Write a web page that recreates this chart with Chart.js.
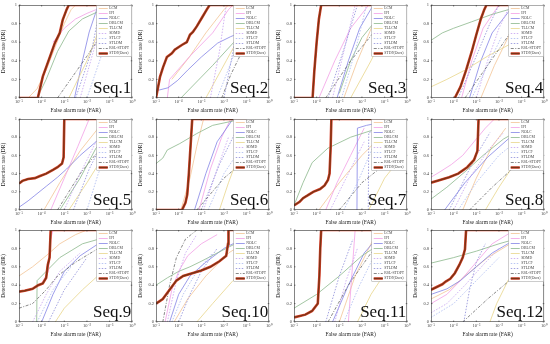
<!DOCTYPE html>
<html><head><meta charset="utf-8">
<script src="https://cdn.jsdelivr.net/npm/chart.js@4.4.1/dist/chart.umd.min.js"></script>
<style>
html,body{margin:0;padding:0;background:#fff;width:550px;height:344px;overflow:hidden}
canvas{position:absolute}
</style></head><body>
<script>
// ---- data ----
const methods = ["LCM","IPI","NOLC","DBLCM","TLLCM","SDMD","STLCF","STLDM","RSL-STDPT","STDF(Ours)"];
const xTicks = [-5,-4,-3,-2,-1,0];            // log10(FAR)
const yTicks = [0,0.2,0.4,0.6,0.8,1];
const seqNames = ["Seq.1","Seq.2","Seq.3","Seq.4","Seq.5","Seq.6","Seq.7","Seq.8","Seq.9","Seq.10","Seq.11","Seq.12"];
// each curve: [log10(FAR), DR]; order = methods
const seq1 = [
 [[-4.6,0],[-4.2,0.1],[-3.8,0.3],[-3.4,0.55],[-3.0,0.8],[-2.7,0.95],[-2.5,1]],
 [[-3.5,0.6],[-3.0,0.75],[-2.5,0.85],[-2.0,0.91],[-1.5,0.96],[-1.0,1]],
 [[-2.55,0],[-2.2,0.4],[-1.9,0.71],[-1.5,1]],
 [[-4.2,0],[-3.8,0.2],[-3.3,0.5],[-2.8,0.72],[-2.2,0.85],[-1.5,0.93],[-1.0,0.97]],
 [[-2.8,0],[-2.0,0.4],[-1.2,0.9],[-1.0,1]],
 [[-2.3,0],[-1.6,0.6],[-1.2,1]],
 [[-2.0,0],[-1.3,0.5],[-0.8,1]],
 [[-2.5,0],[-1.8,0.5],[-1.4,1]],
 [[-3.3,0],[-2.0,0.45],[-1.3,0.7],[-0.6,0.95]],
 [[-5,0],[-4.17,0],[-3.95,0.23],[-3.64,0.44],[-3.42,0.59],[-3.2,0.7],[-3.07,0.84],[-2.9,0.95],[-2.8,1],[-1,1]]
];
const seq2 = [
 [[-4.3,0.2],[-3.5,0.45],[-2.8,0.7],[-2.0,0.95],[-1.8,1]],
 [[-4.5,0],[-4.4,0.2],[-3.5,0.45],[-2.5,0.7],[-1.8,0.95],[-1.6,1]],
 [[-4.95,0.08],[-4.47,0.11],[-4.04,0.19],[-3.6,0.3],[-3.0,0.44],[-2.28,0.59],[-1.7,0.66],[-0.9,0.74],[-0.1,0.8]],
 [[-3.9,0],[-2.5,0.35],[-1.0,0.75],[-0.2,0.95]],
 [[-2.8,0],[-1.9,0.4],[-1.0,0.8]],
 [[-2.6,0],[-2.2,0.5],[-1.9,1]],
 [[-2.3,0],[-1.5,0.5],[-0.8,1]],
 [[-2.0,0],[-1.6,0.5],[-1.3,1]],
 [[-2.1,0],[-1.7,0.25],[-0.6,0.8]],
 [[-5,0],[-4.82,0.23],[-4.69,0.33],[-4.52,0.44],[-4.3,0.48],[-4.17,0.52],[-3.86,0.57],[-3.64,0.6],[-3.5,0.68],[-3.37,0.71],[-3.2,0.77],[-2.98,0.86],[-2.76,0.95],[-2.63,1],[-1,1]]
];
const seq3 = [
 [[-2.8,0],[-2.2,0.4],[-1.5,0.8],[-1.0,1]],
 [[-3.9,0],[-3.2,0.4],[-2.5,0.75],[-1.7,1]],
 [[-3.1,0],[-2.6,0.4],[-2.1,0.75],[-1.5,1]],
 [[-3.0,0.05],[-2.5,0.4],[-2.0,0.65],[-1.0,0.95]],
 [[-2.5,0],[-1.6,0.4],[-0.6,0.9]],
 [[-3.3,0],[-2.8,0.5],[-2.3,1]],
 [[-2.9,0],[-2.3,0.5],[-1.8,1]],
 [[-3.5,0],[-2.7,0.6],[-2.2,1]],
 [[-3.6,0],[-2.5,0.4],[-1.0,0.85]],
 [[-5,0],[-4.18,0],[-4.1,0.3],[-4.0,0.6],[-3.9,0.85],[-3.8,1],[-1,1]]
];
const seq4 = [
 [[-2.8,0],[-2.2,0.35],[-1.5,0.7],[-0.8,0.9]],
 [[-3.65,0],[-3.2,0.4],[-2.7,0.75],[-2.0,1]],
 [[-3.3,0],[-2.8,0.4],[-2.3,0.7],[-1.5,0.95]],
 [[-5,0.62],[-4.5,0.7],[-4,0.75],[-3.2,0.82],[-2.3,0.9],[-1.3,0.97],[-0.8,1]],
 [[-5,0.12],[-4.3,0.2],[-3.5,0.3],[-2.5,0.45],[-1.5,0.58],[-0.3,0.68]],
 [[-3.0,0],[-2.5,0.4],[-2.0,0.75],[-1.6,0.95]],
 [[-3.2,0],[-2.6,0.3],[-1.9,0.65]],
 [[-3.8,0],[-3.0,0.45],[-2.4,0.8],[-2.0,1]],
 [[-3.5,0],[-2.5,0.35],[-1.5,0.7],[-0.5,0.95]],
 [[-3.95,0],[-3.7,0.12],[-3.45,0.3],[-3.2,0.5],[-3.0,0.68],[-2.8,0.85],[-2.65,0.95],[-2.55,1],[-1,1]]
];
const seq5 = [
 [[-3.9,0],[-3.2,0.3],[-2.3,0.65],[-1.5,0.9]],
 [[-3.6,0],[-3.0,0.35],[-2.4,0.7],[-1.9,1]],
 [[-5,0.03],[-4.6,0.1],[-4.3,0.16],[-3.8,0.26],[-3.3,0.36],[-2.9,0.45],[-2.3,0.6],[-1.6,0.75],[-0.5,0.9]],
 [[-3.2,0],[-2.3,0.35],[-1.6,0.68],[-0.8,0.9]],
 [[-2.8,0],[-2.0,0.3],[-1.0,0.7]],
 [[-3.0,0],[-2.3,0.4],[-1.5,0.8]],
 [[-2.0,0],[-1.5,0.4],[-0.8,0.8]],
 [[-2.6,0],[-1.9,0.45],[-1.2,0.8]],
 [[-3.3,0],[-2.3,0.4],[-1.0,0.8]],
 [[-5,0.29],[-4.85,0.32],[-4.6,0.34],[-4.3,0.35],[-4.1,0.37],[-3.8,0.4],[-3.5,0.44],[-3.3,0.47],[-3.1,0.51],[-3.03,0.58],[-3.0,1],[-1,1]]
];
const seq6 = [
 [[-3.9,0],[-3.5,0.35],[-3.2,0.7],[-2.9,1]],
 [[-3.1,0],[-2.6,0.45],[-2.1,0.8],[-1.7,1]],
 [[-3.3,0],[-2.8,0.4],[-2.3,0.75],[-1.6,1]],
 [[-5,0.51],[-4.7,0.57],[-4.5,0.66],[-3.95,0.73],[-3.2,0.84],[-2.5,0.93],[-1.75,0.97],[-1.2,1]],
 [[-2.2,0],[-1.8,0.3],[-1.2,0.7],[-0.6,1]],
 [[-2.9,0],[-2.3,0.45],[-1.8,0.8]],
 [[-2.7,0],[-2.0,0.4],[-1.2,0.7]],
 [[-3.0,0],[-2.2,0.5],[-1.5,0.85]],
 [[-3.2,0],[-2.0,0.35],[-0.8,0.6]],
 [[-5,0],[-3.85,0],[-3.7,0.08],[-3.62,0.17],[-3.55,0.4],[-3.45,0.8],[-3.4,1],[-1,1]]
];
const seq7 = [
 [[-3.9,0],[-3.0,0.3],[-2.0,0.6],[-1.2,0.8]],
 [[-3.6,0],[-3.1,0.3],[-2.5,0.6],[-1.9,0.9]],
 [[-2.22,0],[-2.2,0.9],[-1.8,0.93],[-0.8,0.98]],
 [[-5,0.05],[-4.6,0.3],[-4.2,0.52],[-3.5,0.68],[-2.5,0.8],[-1.5,0.88],[-0.3,0.95]],
 [[-1.7,0],[-1.0,0.35],[-0.2,0.6]],
 [[-3.4,0],[-2.6,0.4],[-1.9,0.75]],
 [[-2.8,0],[-2.2,0.3],[-1.5,0.7]],
 [[-1.72,0],[-1.7,0.85],[-1.2,0.9]],
 [[-3.0,0],[-2.0,0.3],[-0.5,0.6]],
 [[-5,0.05],[-4.75,0.09],[-4.6,0.13],[-4.4,0.16],[-4.15,0.2],[-3.85,0.23],[-3.65,0.27],[-3.5,0.33],[-3.43,0.4],[-3.38,0.7],[-3.35,1],[-1,1]]
];
const seq8 = [
 [[-3.6,0],[-3,0.35],[-2.3,0.7],[-1.7,0.9]],
 [[-5,0.36],[-4.6,0.42],[-4.1,0.5],[-3.6,0.6],[-3.1,0.75],[-2.6,0.9],[-2.2,1]],
 [[-4.4,0],[-3.5,0.3],[-2.5,0.58],[-1.5,0.8],[-0.2,0.95]],
 [[-5,0.12],[-4.3,0.25],[-3.5,0.42],[-2.7,0.6],[-1.8,0.78],[-0.8,0.92]],
 [[-2.6,0],[-2,0.25],[-1.2,0.55],[-0.3,0.75]],
 [[-4.0,0],[-3.3,0.35],[-2.5,0.65],[-1.8,0.85]],
 [[-3.8,0],[-3.0,0.3],[-2.0,0.6],[-1.0,0.8]],
 [[-4.2,0],[-3.6,0.3],[-3.0,0.6],[-2.4,0.85]],
 [[-3.3,0],[-2.3,0.25],[-1.2,0.5],[-0.2,0.7]],
 [[-5,0.3],[-4.6,0.33],[-4.2,0.36],[-3.8,0.4],[-3.4,0.47],[-3.1,0.55],[-2.95,0.65],[-2.9,1],[-1,1]]
];
const seq9 = [
 [[-5,0.5],[-4.4,0.6],[-3.8,0.72],[-3.2,0.85],[-2.5,0.95],[-2.0,1]],
 [[-4.5,0.35],[-4.0,0.42],[-3.7,0.55],[-3.6,0.9],[-3.5,1]],
 [[-4.0,0],[-3.5,0.3],[-3.0,0.55],[-2.3,0.72],[-1.5,0.85],[-0.8,0.95]],
 [[-4.22,0],[-4.2,0.45],[-3.8,0.55],[-3.2,0.7],[-2.2,0.85],[-1.2,0.92]],
 [[-3.4,0],[-3.0,0.15],[-2.2,0.35],[-1.3,0.55],[-0.4,0.7]],
 [[-4.4,0],[-3.8,0.3],[-3.2,0.55],[-2.3,0.75]],
 [[-4.2,0],[-3.5,0.35],[-2.7,0.6]],
 [[-3.7,0],[-3.0,0.35],[-2.0,0.7]],
 [[-5,0.15],[-4.4,0.2],[-3.8,0.35],[-3.3,0.5],[-2.5,0.65],[-1.5,0.8]],
 [[-5,0.33],[-4.75,0.34],[-4.4,0.36],[-4.15,0.4],[-3.95,0.42],[-3.8,0.48],[-3.73,0.62],[-3.65,0.7],[-3.6,1],[-1,1]]
];
const seq10 = [
 [[-4.2,0],[-3.6,0.25],[-2.8,0.5],[-1.8,0.75],[-0.8,0.9]],
 [[-4.6,0],[-4.3,0.35],[-4.0,0.55],[-3.6,0.72],[-3.0,0.85],[-2.3,0.95]],
 [[-4.4,0],[-4.0,0.3],[-3.5,0.5],[-2.8,0.65],[-2.0,0.8],[-1.2,0.9]],
 [[-5,0.4],[-4.5,0.48],[-4,0.55],[-3.5,0.6],[-3,0.66],[-2.3,0.75],[-1.5,0.85],[-0.8,0.92]],
 [[-3.2,0],[-2.5,0.2],[-1.6,0.45],[-0.6,0.65]],
 [[-4.5,0],[-4.1,0.45],[-3.7,0.75],[-3.2,0.95]],
 [[-4.3,0],[-3.8,0.3],[-3.2,0.55],[-2.5,0.75]],
 [[-4.0,0],[-3.5,0.3],[-3.0,0.55],[-2.3,0.8]],
 [[-4.7,0],[-4.4,0.4],[-4.1,0.7],[-3.7,0.9],[-3.2,1]],
 [[-5,0.2],[-4.7,0.25],[-4.4,0.35],[-4.1,0.45],[-3.8,0.5],[-3.4,0.53],[-3.0,0.56],[-2.6,0.6],[-2.2,0.66],[-1.9,0.72],[-1.82,0.85],[-1.8,1],[-1,1]]
];
const seq11 = [
 [[-3.0,0],[-2.3,0.5],[-1.5,0.9]],
 [[-2.6,0],[-2.45,0.5],[-2.3,1]],
 [[-3.3,0],[-2.6,0.4],[-1.9,0.75],[-1.2,0.95]],
 [[-5,0.15],[-4,0.3],[-3,0.5],[-2,0.72],[-1,0.88]],
 [[-2.2,0],[-1.6,0.3],[-0.8,0.6]],
 [[-3.2,0],[-2.7,0.45],[-2.2,0.8]],
 [[-2.8,0],[-2.1,0.4],[-1.3,0.8]],
 [[-3.6,0],[-3.0,0.5],[-2.4,0.9]],
 [[-3.5,0],[-2.6,0.4],[-1.6,0.75],[-0.8,0.95]],
 [[-5,0.05],[-4.5,0.08],[-4.2,0.12],[-3.95,0.2],[-3.88,0.5],[-3.84,0.8],[-3.8,1],[-1,1]]
];
const seq12 = [
 [[-5,0.25],[-4.2,0.35],[-3.5,0.5],[-2.5,0.7],[-1.5,0.85]],
 [[-5,0.2],[-4.3,0.3],[-3.7,0.45],[-3.0,0.65],[-2.3,0.85],[-1.5,0.97]],
 [[-5,0.3],[-4.3,0.36],[-3.7,0.45],[-3.0,0.6],[-2.3,0.75],[-1.4,0.88],[-0.5,0.95]],
 [[-5,0.64],[-4,0.7],[-3,0.77],[-2,0.85],[-1,0.92],[-0.1,0.98]],
 [[-2.4,0],[-2.1,0.2],[-1.6,0.45],[-1.0,0.6]],
 [[-5,0.1],[-4.3,0.2],[-3.5,0.4],[-2.7,0.62],[-2,0.8]],
 [[-5,0.05],[-4,0.2],[-3,0.45],[-2,0.7]],
 [[-3.55,0],[-3.3,0.35],[-3.0,0.65],[-2.6,0.85]],
 [[-3.6,0],[-2.5,0.25],[-1.3,0.5],[-0.2,0.7]],
 [[-5,0.35],[-4.75,0.38],[-4.5,0.41],[-4.35,0.44],[-4.15,0.47],[-3.95,0.53],[-3.75,0.62],[-3.6,0.7],[-3.5,0.79],[-3.47,0.92],[-3.45,1],[-1,1]]
];
const allSeqs = [seq1,seq2,seq3,seq4,seq5,seq6,seq7,seq8,seq9,seq10,seq11,seq12];

// ---- styles ----
const styles = [
 {c:'#f2c496', w:0.8, d:[]},
 {c:'#f2a0e6', w:0.8, d:[]},
 {c:'#8484e6', w:0.8, d:[]},
 {c:'#8cb88c', w:0.8, d:[]},
 {c:'#e8d68a', w:0.8, d:[]},
 {c:'#c4a0f0', w:0.8, d:[1.5,1.5]},
 {c:'#a8b8f0', w:0.8, d:[1.5,1.5]},
 {c:'#8c8cd8', w:0.8, d:[1.5,1.5]},
 {c:'#555555', w:0.7, d:[3,1.5,1,1.5]},
 {c:'#7a3414', w:1.4, d:[]}
];
const oursHalo = '#d8402a';
const plotLefts = [19,156,294,431];
const plotTops = [5,119,230];
const plotBottoms = [98,210,322];
const PW = 114, YW = 19, XH = 17;
const sup = {'-':'\u207b','0':'\u2070','1':'\u00b9','2':'\u00b2','3':'\u00b3','4':'\u2074','5':'\u2075','6':'\u2076'};
const supStr = n => String(n).split('').map(ch=>sup[ch]).join('');

const decor = {
  id:'decor',
  afterDatasetsDraw(chart){
    const {ctx, chartArea:a, scales} = chart;
    ctx.save();
    ctx.strokeStyle='#333'; ctx.lineWidth=0.6; ctx.setLineDash([]);
    ctx.strokeRect(a.left+0.5,a.top+0.5,a.right-a.left-1,a.bottom-a.top-1);
    ctx.beginPath();
    xTicks.forEach(t=>{const x=scales.x.getPixelForValue(t);ctx.moveTo(x,a.bottom);ctx.lineTo(x,a.bottom-1.5);ctx.moveTo(x,a.top);ctx.lineTo(x,a.top+1.5);});
    yTicks.forEach(t=>{const y=scales.y.getPixelForValue(t);ctx.moveTo(a.left,y);ctx.lineTo(a.left+1.5,y);ctx.moveTo(a.right,y);ctx.lineTo(a.right-1.5,y);});
    ctx.stroke();
    // legend
    const lw=35, lh=51, lx=a.right-lw-0.5, ly=a.top+0.5;
    ctx.fillStyle='#fff'; ctx.fillRect(lx,ly,lw,lh);
    ctx.strokeStyle='#999'; ctx.lineWidth=0.5; ctx.strokeRect(lx,ly,lw,lh);
    ctx.font='3.8px "Liberation Serif"'; ctx.textBaseline='middle'; ctx.textAlign='left';
    methods.forEach((m,i)=>{
      const y=ly+3+i*5, s=styles[i];
      if(i===9){ctx.strokeStyle=oursHalo;ctx.lineWidth=2.4;ctx.setLineDash([]);ctx.beginPath();ctx.moveTo(lx+2,y);ctx.lineTo(lx+11,y);ctx.stroke();}
      ctx.strokeStyle=s.c; ctx.lineWidth=s.w; ctx.setLineDash(s.d);
      ctx.beginPath(); ctx.moveTo(lx+2,y); ctx.lineTo(lx+11,y); ctx.stroke();
      ctx.setLineDash([]); ctx.fillStyle='#444'; ctx.fillText(m,lx+12.5,y);
    });
    ctx.font='17px "Liberation Serif"'; ctx.fillStyle='#111'; ctx.textAlign='right'; ctx.textBaseline='alphabetic';
    ctx.fillText(chart.options.plugins.seqLabel, a.right-1, a.bottom-5);
    ctx.restore();
  }
};

allSeqs.forEach((seq,k)=>{
  const col=k%4, row=Math.floor(k/4);
  const ph = plotBottoms[row]-plotTops[row];
  const cv=document.createElement('canvas');
  const W=YW+PW+4, H=ph+5+XH;
  cv.width=W; cv.height=H;
  cv.style.left=(plotLefts[col]-YW)+'px'; cv.style.top=(plotTops[row]-5)+'px';
  cv.style.width=W+'px'; cv.style.height=H+'px';
  document.body.appendChild(cv);
  const datasets=[];
  seq.forEach((pts,i)=>{
    const s=styles[i];
    const data=pts.map(p=>({x:p[0],y:p[1]}));
    if(i===9){
      datasets.push({data, borderColor:oursHalo, borderWidth:2.6, pointRadius:0, showLine:true, fill:false, tension:0, order:1});
      datasets.push({data, borderColor:s.c, borderWidth:s.w, pointRadius:0, showLine:true, fill:false, tension:0, order:0});
    } else {
      datasets.push({data, borderColor:s.c, borderWidth:s.w, borderDash:s.d, pointRadius:0, showLine:true, fill:false, tension:0, order:20-i});
    }
  });
  new Chart(cv,{
    type:'scatter',
    data:{datasets},
    options:{
      responsive:false, animation:false, devicePixelRatio:1,
      layout:{padding:{top:5,right:4,left:0,bottom:0}},
      plugins:{legend:{display:false},tooltip:{enabled:false},seqLabel:seqNames[k]},
      scales:{
        x:{type:'linear',min:-5,max:0,
           afterBuildTicks(s){s.ticks=xTicks.map(v=>({value:v}));},
           afterFit(s){s.height=XH;},
           grid:{display:false,drawTicks:false,tickLength:0}, border:{display:false},
           ticks:{padding:1.5,color:'#444',font:{size:4.5,family:'Liberation Serif'},maxRotation:0,callback:v=>'10'+supStr(v)},
           title:{display:true,text:'False alarm rate (FAR)',color:'#222',font:{size:5.5,family:'Liberation Serif'},padding:{top:0,bottom:1}}},
        y:{type:'linear',min:0,max:1,
           afterBuildTicks(s){s.ticks=yTicks.map(v=>({value:v}));},
           afterFit(s){s.width=YW;},
           grid:{display:false,drawTicks:false,tickLength:0}, border:{display:false},
           ticks:{padding:2,color:'#444',font:{size:4.5,family:'Liberation Serif'},callback:v=>v===0?'0':v===1?'1':v.toFixed(1)},
           title:{display:true,text:'Detection rate (DR)',color:'#222',font:{size:5.5,family:'Liberation Serif'},padding:{top:0,bottom:1}}}
      }
    },
    plugins:[decor]
  });
});
</script>
</body></html>
